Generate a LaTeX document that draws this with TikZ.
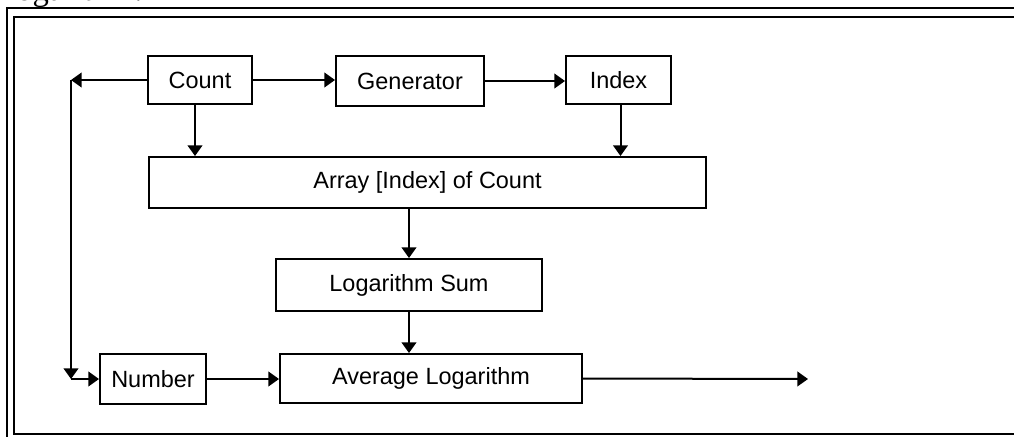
\documentclass[tikz,border=0pt]{standalone}
\usepackage{fontspec}
\setmainfont{Liberation Sans}
\newfontfamily\serifcap{Liberation Serif}
\usetikzlibrary{arrows.meta,calc}

\tikzset{
  box/.style={draw, line width=1.5pt, inner sep=0pt,
    font=\fontsize{17.6}{20}\selectfont},
  arr/.style={line width=1.5pt, -{Triangle[length=8pt,width=11pt]}},
  frame/.style={line width=1.5pt},
}

\begin{document}
\begin{tikzpicture}[x=0.75pt, y=-0.75pt]
  \useasboundingbox (0,0) rectangle (1014,436);
  \clip (0,0) rectangle (1014,436);

  % tail of the caption line above the frame
  \node[anchor=base west, inner sep=0pt, font=\serifcap\fontsize{24.5}{28}\selectfont]
    (caption) at (7,0) {logarithm.};

  % double frame around the diagram
  \draw[frame] (7,440) -- (7,8) -- (1020,8);
  \draw[frame] (1020,434) -- (14,434) -- (14,17) -- (1020,17);

  % blocks
  \node[box, minimum width=104*0.75pt, minimum height=48*0.75pt] (count)  at (200,80)    {Count};
  \node[box, minimum width=148*0.75pt, minimum height=50*0.75pt] (gen)    at (410,81)    {Generator};
  \node[box, minimum width=105*0.75pt, minimum height=48*0.75pt] (index)  at (618.5,80)  {Index};
  \node[box, minimum width=557*0.75pt, minimum height=51*0.75pt] (array)  at (427.5,182.5) {Array [Index] of Count};
  \node[box, minimum width=266*0.75pt, minimum height=52*0.75pt] (logsum) at (409,285)   {Logarithm Sum};
  \node[box, minimum width=106*0.75pt, minimum height=50*0.75pt] (number) at (153,379)   {Number};
  \node[box, minimum width=302*0.75pt, minimum height=49*0.75pt] (avg)    at (431,378.5) {Average Logarithm};

  % turning points and the open output end
  \coordinate (c1) at (71,80);
  \coordinate (c2) at (71,379);
  \coordinate (out) at (808,379);

  % connectors
  \draw[arr] (count.west) -- (c1);
  \draw[arr] (c1) -- (c2);
  \draw[arr] (c2) -- (number.west);
  \draw[arr] (count.east) -- (count.east -| gen.west);
  \draw[arr] (gen.east) -- (gen.east -| index.west);
  \draw[arr] ($(count.south)+(-5,0)$) -- ($(count.south |- array.north)+(-5,0)$);
  \draw[arr] ($(index.south)+(2,0)$) -- ($(index.south |- array.north)+(2,0)$);
  \draw[arr] (logsum.north |- array.south) -- (logsum.north);
  \draw[arr] (logsum.south) -- (logsum.south |- avg.north);
  \draw[arr] (number.east) -- (number.east -| avg.west);
  \draw[arr] (avg.east) -- (out);
\end{tikzpicture}
\end{document}
